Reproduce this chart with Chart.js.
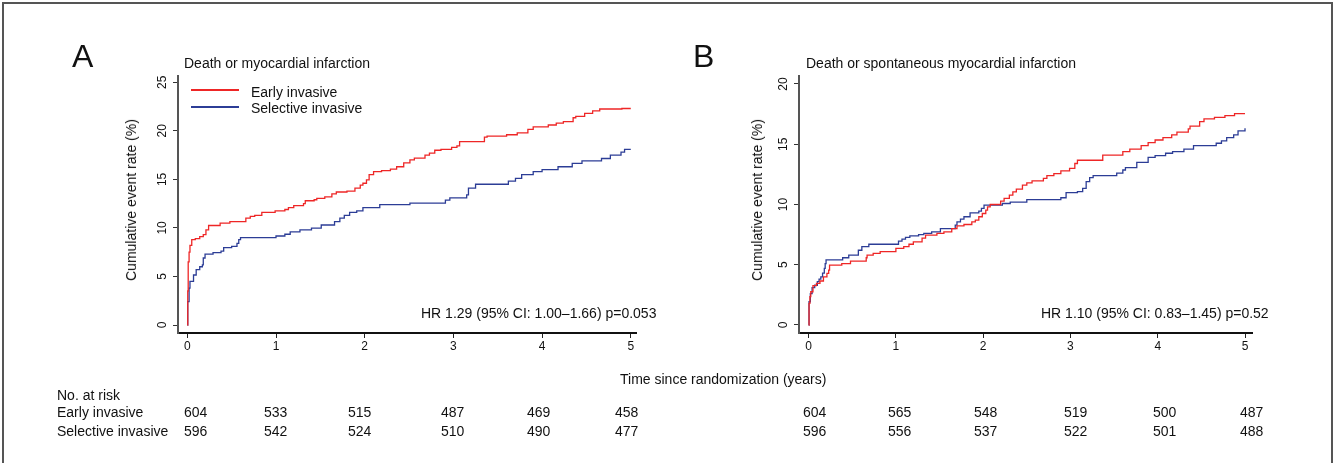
<!DOCTYPE html>
<html lang="en">
<head>
<meta charset="UTF-8">
<title>Cumulative event rate</title>
<script src="https://cdn.jsdelivr.net/npm/chart.js"></script>
<style>
  body { margin: 0; background: #fff; font-family: "Liberation Sans", Arial, Helvetica, sans-serif; color: #111; }
  #page { position: relative; width: 1337px; height: 463px; overflow: hidden; }
  #frame { position: absolute; left: 2px; top: 2px; width: 1327px; height: 520px; border: 2px solid #555; }
  canvas { position: absolute; left: 0; top: 0; }
  .txt { position: absolute; white-space: nowrap; font-size: 14px; line-height: 14px; }
  .panel { font-size: 32px; line-height: 32px; }
  .ytitle { transform: translate(-50%, -50%) rotate(-90deg); }
  .key { position: absolute; width: 48px; height: 1.5px; }
</style>
</head>
<body>
<div id="page">
  <div id="frame"></div>
  <canvas id="chartA" width="1337" height="463"></canvas>
  <canvas id="chartB" width="1337" height="463"></canvas>
  <div id="labels"></div>
</div>

<script>
// time points (years) and cumulative event rate (%)
const years = [0, 1, 2, 3, 4, 5];
const yTicksA = [0, 5, 10, 15, 20, 25];
const yTicksB = [0, 5, 10, 15, 20];

const timeEarlyA = [0, 0.005, 0.01, 0.02, 0.03, 0.05, 0.09, 0.14, 0.18, 0.21, 0.24, 0.37, 0.48, 0.66, 0.71, 0.76,
  0.84, 0.99, 1.1, 1.14, 1.2, 1.31, 1.33, 1.43, 1.46, 1.55, 1.63, 1.68, 1.8, 1.89, 1.95, 1.98, 2.02, 2.05, 2.1,
  2.19, 2.29, 2.36, 2.44, 2.51, 2.56, 2.68, 2.73, 2.79, 2.86, 2.98, 3.04, 3.07, 3.35, 3.38, 3.6, 3.72, 3.84, 3.9,
  4.07, 4.16, 4.24, 4.35, 4.38, 4.48, 4.57, 4.65, 4.9, 5.0];
const rateEarlyA = [0, 3.5, 6.5, 7.5, 8.2, 8.8, 8.9, 9.1, 9.3, 9.8, 10.25, 10.5, 10.65, 11.0, 11.2, 11.3,
  11.6, 11.75, 11.9, 12.1, 12.3, 12.5, 12.8, 12.9, 13.05, 13.2, 13.5, 13.7, 13.8, 14.1, 14.4, 14.6, 14.95, 15.5, 15.8,
  15.9, 16.05, 16.3, 16.7, 17.0, 17.2, 17.5, 17.7, 18.0, 18.1, 18.3, 18.45, 18.9, 19.35, 19.45, 19.6, 19.8, 20.15, 20.4,
  20.6, 20.8, 20.95, 21.35, 21.5, 21.8, 22.05, 22.25, 22.3, 22.3];

const timeSelA = [0, 0.005, 0.02, 0.03, 0.07, 0.1, 0.14, 0.17, 0.18, 0.2, 0.29, 0.38, 0.41, 0.5, 0.56, 0.58, 0.6,
  1.0, 1.1, 1.16, 1.27, 1.4, 1.51, 1.66, 1.72, 1.77, 1.83, 1.91, 1.98, 2.17, 2.51, 2.91, 2.96, 3.15, 3.17, 3.25,
  3.62, 3.7, 3.77, 3.9, 4.0, 4.18, 4.34, 4.45, 4.67, 4.77, 4.89, 4.93, 5.0];
const rateSelA = [0, 2.4, 3.8, 4.5, 5.15, 5.7, 6.0, 6.2, 6.9, 7.3, 7.45, 7.6, 7.97, 8.1, 8.4, 8.8, 9.0,
  9.17, 9.35, 9.6, 9.8, 9.97, 10.3, 10.65, 11.0, 11.3, 11.6, 11.75, 12.1, 12.4, 12.56, 12.87, 13.1, 13.4, 14.1, 14.5,
  14.83, 15.1, 15.5, 15.8, 16.0, 16.3, 16.65, 16.9, 17.15, 17.5, 17.8, 18.1, 18.1];

const timeEarlyB = [0, 0.005, 0.015, 0.025, 0.05, 0.09, 0.13, 0.17, 0.21, 0.23, 0.24, 0.38, 0.48, 0.66, 0.67,
  0.74, 0.82, 1.0, 1.09, 1.15, 1.2, 1.3, 1.34, 1.47, 1.55, 1.64, 1.7, 1.78, 1.87, 1.91, 1.95, 1.99, 2.03, 2.05, 2.08,
  2.2, 2.24, 2.3, 2.34, 2.38, 2.45, 2.5, 2.56, 2.69, 2.73, 2.81, 2.89, 2.99, 3.05, 3.08, 3.37, 3.6, 3.68, 3.81, 3.89,
  3.97, 4.06, 4.16, 4.22, 4.35, 4.37, 4.48, 4.53, 4.65, 4.77, 4.88, 5.0];
const rateEarlyB = [0, 1.8, 2.35, 2.76, 3.26, 3.45, 3.65, 4.0, 4.28, 4.56, 4.97, 5.1, 5.3, 5.58, 5.8,
  5.94, 6.08, 6.35, 6.5, 6.7, 6.9, 7.2, 7.46, 7.6, 7.73, 8.0, 8.23, 8.34, 8.56, 8.7, 8.98, 9.25, 9.53, 9.8, 10.0,
  10.28, 10.5, 10.77, 11.05, 11.27, 11.6, 11.8, 11.95, 12.17, 12.4, 12.56, 12.78, 13.0, 13.4, 13.67, 14.1, 14.38, 14.6, 14.88, 15.13,
  15.35, 15.55, 15.77, 16.0, 16.27, 16.5, 16.87, 17.1, 17.23, 17.37, 17.53, 17.53];

const timeSelB = [0, 0.005, 0.02, 0.04, 0.07, 0.1, 0.12, 0.14, 0.16, 0.18, 0.19, 0.2, 0.39, 0.46, 0.57, 0.61,
  0.69, 1.03, 1.07, 1.11, 1.16, 1.26, 1.32, 1.41, 1.51, 1.68, 1.7, 1.74, 1.78, 1.85, 1.95, 1.98, 2.01, 2.22, 2.31,
  2.5, 2.89, 2.95, 3.08, 3.14, 3.18, 3.22, 3.26, 3.53, 3.6, 3.63, 3.76, 3.89, 3.97, 4.09, 4.17, 4.3, 4.41, 4.67, 4.73,
  4.79, 4.87, 4.92, 5.0];
const rateSelB = [0, 1.93, 2.6, 3.1, 3.3, 3.6, 3.8, 4.0, 4.3, 4.7, 5.1, 5.4, 5.58, 5.8, 6.2, 6.5,
  6.7, 6.96, 7.13, 7.27, 7.4, 7.5, 7.6, 7.73, 8.0, 8.29, 8.56, 8.78, 8.98, 9.3, 9.45, 9.67, 9.94, 10.08, 10.2,
  10.4, 10.56, 10.98, 11.06, 11.34, 11.9, 12.22, 12.4, 12.6, 12.86, 13.05, 13.5, 13.9, 14.05, 14.25, 14.38, 14.6, 14.88, 15.08, 15.27,
  15.55, 15.77, 16.1, 16.32];

// number at risk at 0..5 years
const riskEarlyA = [604, 533, 515, 487, 469, 458];
const riskSelA = [596, 542, 524, 510, 490, 477];
const riskEarlyB = [604, 565, 548, 519, 500, 487];
const riskSelB = [596, 556, 537, 522, 501, 488];

const groups = ['Early invasive', 'Selective invasive'];
const titleA = 'Death or myocardial infarction';
const titleB = 'Death or spontaneous myocardial infarction';
const hrA = 'HR 1.29 (95% CI: 1.00\u20131.66) p=0.053';
const hrB = 'HR 1.10 (95% CI: 0.83\u20131.45) p=0.52';
const yTitle = 'Cumulative event rate (%)';
const xTitle = 'Time since randomization (years)';

const RED = '#ee2626';
const BLUE = '#2c3d96';
const FONT = '"Liberation Sans", Arial, Helvetica, sans-serif';

function points(t, v) {
    return t.map((x, i) => ({ x: x, y: v[i] }));
}

function makePanel(id, p) {
    return new Chart(document.getElementById(id), {
        type: 'line',
        data: {
            datasets: [
                { label: groups[0], data: points(p.tEarly, p.vEarly), borderColor: RED, borderWidth: 1.3, stepped: 'before', pointRadius: 0 },
                { label: groups[1], data: points(p.tSel, p.vSel), borderColor: BLUE, borderWidth: 1.3, stepped: 'before', pointRadius: 0 }
            ]
        },
        options: {
            responsive: false,
            animation: false,
            layout: { padding: { left: p.left - 40, top: p.top, right: 1337 - p.right, bottom: 463 - p.bottom - 25 } },
            plugins: { legend: { display: false }, tooltip: { enabled: false } },
            scales: {
                x: {
                    type: 'linear', min: p.xMin, max: p.xMax,
                    afterBuildTicks: s => { s.ticks = years.map(v => ({ value: v })); },
                    afterFit: s => { s.height = 25; },
                    grid: { drawOnChartArea: false, drawTicks: true, tickLength: 5, tickColor: '#222' },
                    border: { display: true, color: '#111', width: 2 },
                    ticks: { font: { size: 12, family: FONT }, color: '#111', padding: 1, maxRotation: 0 }
                },
                y: {
                    type: 'linear', min: p.yMin, max: p.yMax,
                    afterBuildTicks: s => { s.ticks = p.yTicks.map(v => ({ value: v })); },
                    afterFit: s => { s.width = 40; },
                    grid: { drawOnChartArea: false, drawTicks: true, tickLength: 5, tickColor: '#333' },
                    border: { display: true, color: '#555', width: 2 },
                    ticks: { font: { size: 12, family: FONT }, color: '#111', padding: 4, minRotation: 90, maxRotation: 90, crossAlign: 'center' }
                }
            }
        }
    });
}

makePanel('chartA', {
    tEarly: timeEarlyA, vEarly: rateEarlyA, tSel: timeSelA, vSel: rateSelA, yTicks: yTicksA,
    left: 178, right: 636, top: 76, bottom: 333,
    xMin: -0.105, xMax: 5.059, yMin: -0.824, yMax: 25.65
});
makePanel('chartB', {
    tEarly: timeEarlyB, vEarly: rateEarlyB, tSel: timeSelB, vSel: rateSelB, yTicks: yTicksB,
    left: 799, right: 1252, top: 76, bottom: 333,
    xMin: -0.11, xMax: 5.08, yMin: -0.664, yMax: 20.66
});

// text around the plots
const holder = document.getElementById('labels');
function addText(text, x, yCenter, cls, size) {
    const d = document.createElement('div');
    d.className = 'txt ' + (cls || '');
    d.textContent = text;
    d.style.left = x + 'px';
    d.style.top = (yCenter - (size || 14) / 2) + 'px';
    holder.appendChild(d);
    return d;
}
function addYTitle(x) {
    const d = document.createElement('div');
    d.className = 'txt ytitle';
    d.textContent = yTitle;
    d.style.left = x + 'px';
    d.style.top = '200px';
    holder.appendChild(d);
}
function addKey(color, x, y) {
    const d = document.createElement('div');
    d.className = 'key';
    d.style.background = color;
    d.style.left = x + 'px';
    d.style.top = y + 'px';
    holder.appendChild(d);
}

addText('A', 72, 56, 'panel', 32);
addText('B', 693, 56, 'panel', 32);
addText(titleA, 184, 63);
addText(titleB, 806, 63);
addYTitle(131);
addYTitle(757);
addKey(RED, 191, 89);
addKey(BLUE, 191, 106);
addText(groups[0], 251, 92);
addText(groups[1], 251, 107.5);
addText(hrA, 421, 313);
addText(hrB, 1041, 313);
addText(xTitle, 620, 378.5);

addText('No. at risk', 57, 394.5);
addText(groups[0], 57, 412.3);
addText(groups[1], 57, 430.7);

const riskLeftA = [184, 264, 348, 441, 527, 615];
const riskLeftB = [803, 888, 974, 1064, 1153, 1240];
riskEarlyA.forEach((n, i) => addText(String(n), riskLeftA[i], 412.3));
riskSelA.forEach((n, i) => addText(String(n), riskLeftA[i], 430.7));
riskEarlyB.forEach((n, i) => addText(String(n), riskLeftB[i], 412.3));
riskSelB.forEach((n, i) => addText(String(n), riskLeftB[i], 430.7));
</script>
</body>
</html>
